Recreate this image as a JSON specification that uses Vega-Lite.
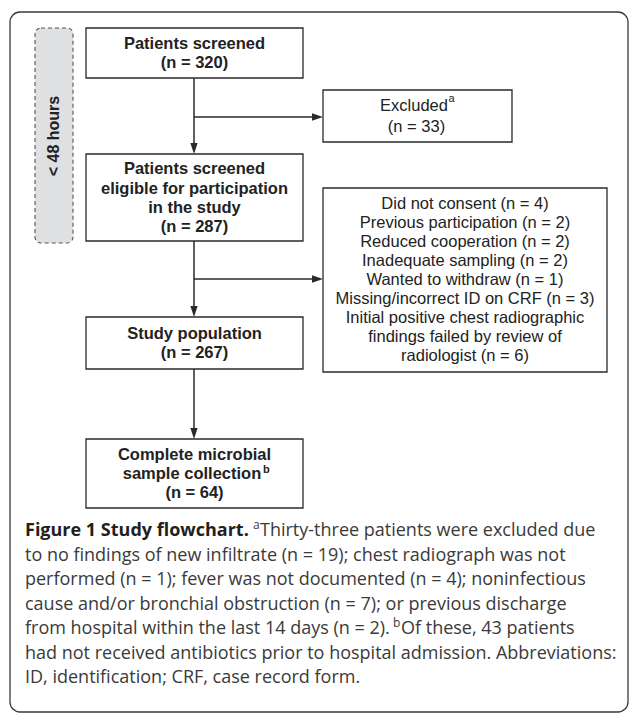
{
  "$schema": "https://vega.github.io/schema/vega-lite/v6.json",
  "autosize": {"type": "fit", "contains": "padding"},
  "width": 629,
  "height": 713,
  "padding": 0,
  "background": "white",
  "config": {"view": {"stroke": null}},
  "datasets": {
    "frames": [
      {"kind": "frame", "x0": 10, "x1": 628, "y0": 12, "y1": 712}
    ],
    "side": [
      {"kind": "side", "x0": 35, "x1": 73, "y0": 28, "y1": 243}
    ],
    "boxes": [
      {"id": "screened", "x0": 86, "x1": 303, "y0": 28, "y1": 78},
      {"id": "eligible", "x0": 86, "x1": 303, "y0": 154, "y1": 241},
      {"id": "population", "x0": 86, "x1": 303, "y0": 317, "y1": 369},
      {"id": "complete", "x0": 86, "x1": 303, "y0": 439, "y1": 508},
      {"id": "excluded", "x0": 323, "x1": 512, "y0": 90, "y1": 142},
      {"id": "reasons", "x0": 323, "x1": 607, "y0": 188, "y1": 372}
    ],
    "links": [
      {"x0": 194, "y0": 78, "x1": 194, "y1": 148},
      {"x0": 194, "y0": 117, "x1": 316, "y1": 117},
      {"x0": 194, "y0": 241, "x1": 194, "y1": 311},
      {"x0": 194, "y0": 279, "x1": 316, "y1": 279},
      {"x0": 194, "y0": 369, "x1": 194, "y1": 433}
    ],
    "heads": [
      {"x": 194, "y": 154, "dir": "down"},
      {"x": 194, "y": 317, "dir": "down"},
      {"x": 194, "y": 439, "dir": "down"},
      {"x": 323, "y": 117, "dir": "right"},
      {"x": 323, "y": 279, "dir": "right"}
    ],
    "labels": [
      {"kind": "boxbold", "x": 194.5, "y": 43.5, "text": "Patients screened"},
      {"kind": "boxbold", "x": 194.5, "y": 63, "text": "(n = 320)"},
      {"kind": "boxbold", "x": 194.5, "y": 169, "text": "Patients screened"},
      {"kind": "boxbold", "x": 194.5, "y": 188.5, "text": "eligible for participation"},
      {"kind": "boxbold", "x": 194.5, "y": 207.5, "text": "in the study"},
      {"kind": "boxbold", "x": 194.5, "y": 227, "text": "(n = 287)"},
      {"kind": "boxbold", "x": 194.5, "y": 334, "text": "Study population"},
      {"kind": "boxbold", "x": 194.5, "y": 353, "text": "(n = 267)"},
      {"kind": "boxbold", "x": 194.5, "y": 455, "text": "Complete microbial"},
      {"kind": "boxbold", "x": 192, "y": 474, "text": "sample collection"},
      {"kind": "boxbold", "x": 194.5, "y": 493, "text": "(n = 64)"},
      {"kind": "boxsup", "x": 263, "y": 469.5, "text": "b"},
      {"kind": "boxreg", "x": 414, "y": 106, "text": "Excluded"},
      {"kind": "boxsup2", "x": 448.5, "y": 99, "text": "a"},
      {"kind": "boxreg", "x": 416.5, "y": 127, "text": "(n = 33)"},
      {"kind": "boxreg", "x": 465, "y": 204, "text": "Did not consent (n = 4)"},
      {"kind": "boxreg", "x": 465, "y": 223, "text": "Previous participation (n = 2)"},
      {"kind": "boxreg", "x": 465, "y": 242, "text": "Reduced cooperation (n = 2)"},
      {"kind": "boxreg", "x": 465, "y": 261, "text": "Inadequate sampling (n = 2)"},
      {"kind": "boxreg", "x": 465, "y": 280, "text": "Wanted to withdraw (n = 1)"},
      {"kind": "boxreg", "x": 465, "y": 299, "text": "Missing/incorrect ID on CRF (n = 3)"},
      {"kind": "boxreg", "x": 465, "y": 318, "text": "Initial positive chest radiographic"},
      {"kind": "boxreg", "x": 465, "y": 337, "text": "findings failed by review of"},
      {"kind": "boxreg", "x": 465, "y": 356, "text": "radiologist (n = 6)"},
      {"kind": "capbold", "x": 25, "y": 531, "text": "Figure 1 Study flowchart."},
      {"kind": "capsup", "x": 253, "y": 525, "text": "a"},
      {"kind": "capreg", "x": 260, "y": 531, "text": "Thirty-three patients were excluded due"},
      {"kind": "capreg", "x": 25, "y": 555.5, "text": "to no findings of new infiltrate (n = 19); chest radiograph was not"},
      {"kind": "capreg", "x": 25, "y": 580, "text": "performed (n = 1); fever was not documented (n = 4); noninfectious"},
      {"kind": "capreg", "x": 25, "y": 604.5, "text": "cause and/or bronchial obstruction (n = 7); or previous discharge"},
      {"kind": "capreg", "x": 25, "y": 629, "text": "from hospital within the last 14 days (n = 2)."},
      {"kind": "capsup", "x": 393, "y": 623, "text": "b"},
      {"kind": "capreg", "x": 401, "y": 629, "text": "Of these, 43 patients"},
      {"kind": "capreg", "x": 25, "y": 653.5, "text": "had not received antibiotics prior to hospital admission. Abbreviations:"},
      {"kind": "capreg", "x": 25, "y": 678, "text": "ID, identification; CRF, case record form."},
      {"kind": "sidelabel", "x": 54, "y": 136, "text": "< 48 hours"}
    ]
  },
  "encoding": {},
  "layer": [
    {
      "data": {"name": "frames"},
      "mark": {"type": "rect", "fill": null, "stroke": "#3a3a3a", "strokeWidth": 1.3, "cornerRadius": 10},
      "encoding": {
        "x": {"field": "x0", "type": "quantitative", "scale": {"domain": [0, 629], "nice": false, "zero": false}, "axis": null},
        "x2": {"field": "x1"},
        "y": {"field": "y0", "type": "quantitative", "scale": {"domain": [0, 713], "nice": false, "zero": false, "reverse": true}, "axis": null},
        "y2": {"field": "y1"}
      }
    },
    {
      "data": {"name": "side"},
      "mark": {"type": "rect", "fill": "#dfe0e2", "stroke": "#555555", "strokeWidth": 1.1, "strokeDash": [4, 3], "cornerRadius": 6},
      "encoding": {
        "x": {"field": "x0", "type": "quantitative"},
        "x2": {"field": "x1"},
        "y": {"field": "y0", "type": "quantitative"},
        "y2": {"field": "y1"}
      }
    },
    {
      "data": {"name": "boxes"},
      "mark": {"type": "rect", "fill": "white", "stroke": "#2a2a2a", "strokeWidth": 1.3},
      "encoding": {
        "x": {"field": "x0", "type": "quantitative"},
        "x2": {"field": "x1"},
        "y": {"field": "y0", "type": "quantitative"},
        "y2": {"field": "y1"}
      }
    },
    {
      "data": {"name": "links"},
      "mark": {"type": "rule", "stroke": "#2a2a2a", "strokeWidth": 1.5},
      "encoding": {
        "x": {"field": "x0", "type": "quantitative"},
        "x2": {"field": "x1"},
        "y": {"field": "y0", "type": "quantitative"},
        "y2": {"field": "y1"}
      }
    },
    {
      "data": {"name": "heads"},
      "mark": {"type": "point", "filled": true, "fill": "#2a2a2a", "stroke": null, "size": 484, "opacity": 1},
      "encoding": {
        "x": {"field": "x", "type": "quantitative"},
        "y": {"field": "y", "type": "quantitative"},
        "shape": {"field": "dir", "type": "nominal", "scale": {"domain": ["down", "right"], "range": ["M0,0L-0.33,-1L0.33,-1Z", "M0,0L-1,-0.33L-1,0.33Z"]}, "legend": null}
      }
    },
    {
      "data": {"name": "labels"},
      "transform": [{"filter": "datum.kind === 'boxbold'"}],
      "mark": {"type": "text", "font": "Liberation Sans", "fontWeight": "bold", "fontSize": 16.5, "align": "center", "baseline": "middle", "fill": "#222222"},
      "encoding": {
        "x": {"field": "x", "type": "quantitative"},
        "y": {"field": "y", "type": "quantitative"},
        "text": {"field": "text"}
      }
    },
    {
      "data": {"name": "labels"},
      "transform": [{"filter": "datum.kind === 'boxreg'"}],
      "mark": {"type": "text", "font": "Liberation Sans", "fontSize": 16.5, "align": "center", "baseline": "middle", "fill": "#222222"},
      "encoding": {
        "x": {"field": "x", "type": "quantitative"},
        "y": {"field": "y", "type": "quantitative"},
        "text": {"field": "text"}
      }
    },
    {
      "data": {"name": "labels"},
      "transform": [{"filter": "datum.kind === 'boxsup'"}],
      "mark": {"type": "text", "font": "Liberation Sans", "fontWeight": "bold", "fontSize": 11, "align": "left", "baseline": "middle", "fill": "#222222"},
      "encoding": {
        "x": {"field": "x", "type": "quantitative"},
        "y": {"field": "y", "type": "quantitative"},
        "text": {"field": "text"}
      }
    },
    {
      "data": {"name": "labels"},
      "transform": [{"filter": "datum.kind === 'boxsup2'"}],
      "mark": {"type": "text", "font": "Liberation Sans", "fontSize": 11, "align": "left", "baseline": "middle", "fill": "#222222"},
      "encoding": {
        "x": {"field": "x", "type": "quantitative"},
        "y": {"field": "y", "type": "quantitative"},
        "text": {"field": "text"}
      }
    },
    {
      "data": {"name": "labels"},
      "transform": [{"filter": "datum.kind === 'sidelabel'"}],
      "mark": {"type": "text", "font": "Liberation Sans", "fontWeight": "bold", "fontSize": 16, "angle": 270, "align": "center", "baseline": "middle", "fill": "#222222"},
      "encoding": {
        "x": {"field": "x", "type": "quantitative"},
        "y": {"field": "y", "type": "quantitative"},
        "text": {"field": "text"}
      }
    },
    {
      "data": {"name": "labels"},
      "transform": [{"filter": "datum.kind === 'capbold'"}],
      "mark": {"type": "text", "font": "Open Sans", "fontWeight": "bold", "fontSize": 18, "align": "left", "baseline": "middle", "fill": "#231f20"},
      "encoding": {
        "x": {"field": "x", "type": "quantitative"},
        "y": {"field": "y", "type": "quantitative"},
        "text": {"field": "text"}
      }
    },
    {
      "data": {"name": "labels"},
      "transform": [{"filter": "datum.kind === 'capreg'"}],
      "mark": {"type": "text", "font": "Open Sans", "fontSize": 18, "align": "left", "baseline": "middle", "fill": "#3a3a3a"},
      "encoding": {
        "x": {"field": "x", "type": "quantitative"},
        "y": {"field": "y", "type": "quantitative"},
        "text": {"field": "text"}
      }
    },
    {
      "data": {"name": "labels"},
      "transform": [{"filter": "datum.kind === 'capsup'"}],
      "mark": {"type": "text", "font": "Open Sans", "fontSize": 12, "align": "left", "baseline": "middle", "fill": "#3a3a3a"},
      "encoding": {
        "x": {"field": "x", "type": "quantitative"},
        "y": {"field": "y", "type": "quantitative"},
        "text": {"field": "text"}
      }
    }
  ]
}
